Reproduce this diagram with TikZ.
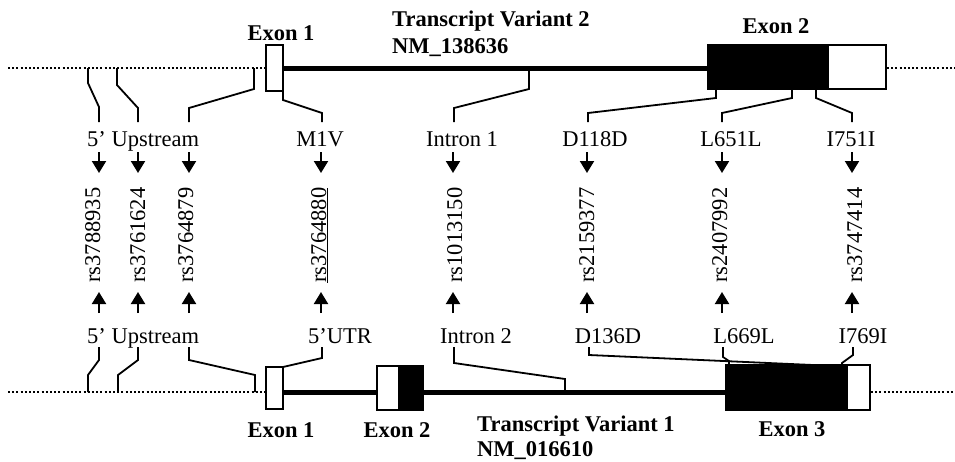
\documentclass[tikz,border=0pt]{standalone}
\usepackage{fontspec}
\setmainfont{Liberation Serif}
\usetikzlibrary{arrows.meta,backgrounds}
\begin{document}
\begin{tikzpicture}[x=1pt,y=-1pt,
  lab/.style={font=\fontsize{22.5}{27}\selectfont, inner sep=0pt, anchor=base},
  blab/.style={lab, font=\fontsize{22.5}{27}\selectfont\bfseries},
  rsn/.style={lab, rotate=90},
  conn/.style={line width=1.8pt, line join=miter},
  gene/.style={line width=5pt},
  dots/.style={line width=2pt, dash pattern=on 2pt off 2.2pt},
  exbox/.style={draw, line width=2pt, fill=white, inner sep=0pt},
  exblack/.style={exbox, fill=black},
  snp/.style={line width=2pt, -{Triangle[width=14pt,length=12pt]}}
]
\useasboundingbox (0,0) rectangle (955,461);
\coordinate (gt) at (0,68);
\coordinate (gb) at (0,392);
% ---------- top transcript ----------
\node[exbox, minimum width=17pt, minimum height=46pt] (e1t) at (274.5,68) {};
\node[exblack, minimum width=120pt, minimum height=44pt] (e2tk) at (768,67) {};
\node[exbox, minimum width=58pt, minimum height=44pt] (e2tw) at (857,67) {};
\coordinate (dtl) at (8,68);
\coordinate (dtr) at (955,68);
% ---------- bottom transcript ----------
\coordinate (dbl) at (8,392);
\coordinate (dbr) at (955,392);
\node[exbox, minimum width=17pt, minimum height=42pt] (e1b) at (274.5,388) {};
\node[exbox, minimum width=22pt, minimum height=44pt] (e2bw) at (388,388) {};
\node[exblack, minimum width=24pt, minimum height=44pt] (e2bk) at (411,388) {};
\node[exblack, minimum width=121pt, minimum height=45pt] (e3bk) at (786.5,387.5) {};
\node[exbox, minimum width=23pt, minimum height=45pt] (e3bw) at (858.5,387.5) {};
\begin{scope}[on background layer]
  \draw[dots] (dtl) -- (e1t.west |- gt);
  \draw[dots] (e2tw.east |- gt) -- (dtr);
  \draw[gene] (e1t.east |- gt) -- (e2tk.west |- gt);
  \draw[dots] (dbl) -- (e1b.west |- gb);
  \draw[dots] (e3bw.east |- gb) -- (dbr);
  \draw[gene] (e1b.east |- gb) -- (e3bk.west |- gb);
\end{scope}
% ---------- bold titles ----------
\node[blab] (ex1t) at (281,40) {Exon 1};
\node[blab] (ex2t) at (776,33) {Exon 2};
\node[blab, anchor=base west] (tv2) at (392,26) {Transcript Variant 2};
\node[blab, anchor=base west] (nm2) at (392,53) {NM\_138636};
\node[blab] (ex1b) at (281,437) {Exon 1};
\node[blab] (ex2b) at (397,437) {Exon 2};
\node[blab] (ex3b) at (792,436) {Exon 3};
\node[blab, anchor=base west] (tv1) at (477,431) {Transcript Variant 1};
\node[blab, anchor=base west] (nm1) at (477,456) {NM\_016610};
% ---------- labels ----------
\node[lab, anchor=base west] (up5t) at (87,146) {5’ Upstream};
\node[lab] (m1v) at (320,146) {M1V};
\node[lab] (in1) at (462,146) {Intron 1};
\node[lab] (d118) at (595,146) {D118D};
\node[lab] (l651) at (731,146) {L651L};
\node[lab] (i751) at (851,146) {I751I};
\node[lab, anchor=base west] (up5b) at (87,343) {5’ Upstream};
\node[lab] (utr) at (340,343) {5’UTR};
\node[lab] (in2) at (476,343) {Intron 2};
\node[lab] (d136) at (608,343) {D136D};
\node[lab] (l669) at (744,343) {L669L};
\node[lab] (i769) at (863,343) {I769I};
% ---------- rs numbers ----------
\node[rsn] (rs1) at (100,235) {rs3788935};
\node[rsn] (rs2) at (145,235) {rs3761624};
\node[rsn] (rs3) at (193,235) {rs3764879};
\node[rsn] (rs4) at (326,235) {\underline{rs3764880}};
\node[rsn] (rs5) at (462,235) {rs1013150};
\node[rsn] (rs6) at (594,235) {rs2159377};
\node[rsn] (rs7) at (727,235) {rs2407992};
\node[rsn] (rs8) at (862,235) {rs3747414};
% ---------- arrows ----------
\foreach \i/\x in {1/99,2/138,3/189,4/321,5/453,6/587,7/722,8/852}{
  \coordinate (ad\i) at (\x,152); \coordinate (ae\i) at (\x,173);
  \coordinate (au\i) at (\x,313); \coordinate (av\i) at (\x,292);
  \draw[snp] (ad\i) -- (ae\i);
  \draw[snp] (au\i) -- (av\i);
}
% ---------- top connectors ----------
\foreach \i/\xa/\ya/\yb/\xb/\yc in {1/88/68/83/99/107, 2/117/68/85/138/108,
   3/254/68/89/189/108, 4/283/91/100/322/113, 5/529/68/89/454/108,
   6/716/89/98/588/113, 7/792/89/98/722/113, 8/816/89/98/852/113}{
  \coordinate (tp\i) at (\xa,\ya); \coordinate (tl\i) at (\xb,122);
  \draw[conn] (tp\i) -- (\xa,\yb) -- (\xb,\yc) -- (tl\i);
}
% ---------- bottom connectors ----------
\foreach \i/\xa/\ya/\xb/\yb/\yc in {1/99/360/88/375/392, 2/138/360/118/375/392,
   3/189/360/255/375/392, 5/454/363/565/379/392, 7/723/357/729/361/365,
   8/853/355/842/363/365}{
  \coordinate (bl\i) at (\xa,347); \coordinate (bp\i) at (\xb,\yc);
  \draw[conn] (bl\i) -- (\xa,\ya) -- (\xb,\yb) -- (bp\i);
}
\coordinate (bl4) at (322,347); \coordinate (bp4) at (283,367);
\draw[conn] (bl4) -- (322,358) -- (bp4);
\coordinate (bl6) at (589,347); \coordinate (bp6) at (813,365);
\draw[conn] (bl6) -- (589,355) -- (bp6);
\end{tikzpicture}
\end{document}
